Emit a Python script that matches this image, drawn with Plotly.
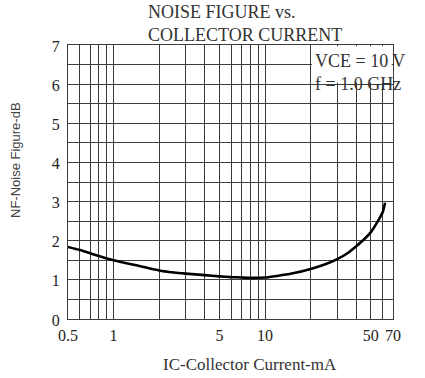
import math
import plotly.graph_objects as go

# ---- data ----
current_ma = [0.5, 0.6, 0.7, 0.8, 1, 1.5, 2, 2.5, 3, 4, 5, 6, 7, 8, 10, 12, 15, 20, 25, 30, 35, 40, 45, 50, 56, 60, 62]
noise_db = [1.84, 1.76, 1.68, 1.61, 1.50, 1.35, 1.24, 1.19, 1.16, 1.12, 1.09, 1.07, 1.06, 1.05, 1.06, 1.10, 1.16, 1.28, 1.40, 1.53, 1.68, 1.86, 2.03, 2.22, 2.52, 2.74, 2.97]

x_grid = [0.5, 0.6, 0.7, 0.8, 0.9, 1, 2, 3, 4, 5, 6, 7, 8, 9, 10, 20, 30, 40, 50, 60, 70]
x_labels = {0.5: "0.5", 1: "1", 5: "5", 10: "10", 50: "50", 70: "70"}
y_grid = [i * 0.5 for i in range(15)]
y_labels = {0: "0", 1: "1", 2: "2", 3: "3", 4: "4", 5: "5", 6: "6", 7: "7"}

title_text = "NOISE FIGURE vs.<br>COLLECTOR CURRENT"
cond_text = "VCE = 10 V<br>f = 1.0 GHz"
x_title = "IC-Collector Current-mA"
y_title = "NF-Noise Figure-dB"

serif = "Liberation Serif, Times New Roman, serif"
sans = "Liberation Sans, Arial, sans-serif"
grid_col = "#3c3c3c"

fig = go.Figure()
fig.add_trace(go.Scatter(
    x=current_ma, y=noise_db, mode="lines",
    line=dict(color="black", width=2.6, shape="spline", smoothing=0.6),
    showlegend=False, hoverinfo="skip",
))

fig.update_xaxes(
    type="log", range=[math.log10(0.5), math.log10(70)],
    tickmode="array", tickvals=x_grid,
    ticktext=[x_labels.get(v, "") for v in x_grid],
    showgrid=True, gridcolor=grid_col, gridwidth=1.3,
    showline=True, linecolor=grid_col, linewidth=1.3, mirror=True,
    ticks="", zeroline=False, ticklabelstandoff=2,
    tickfont=dict(family=serif, size=16, color="#222"),
)
fig.update_yaxes(
    range=[0, 7],
    tickmode="array", tickvals=y_grid,
    ticktext=[y_labels.get(v, "") for v in y_grid],
    showgrid=True, gridcolor=grid_col, gridwidth=1.3,
    showline=True, linecolor=grid_col, linewidth=1.3, mirror=True,
    ticks="", zeroline=False, ticklabelstandoff=4, ticklabelshift=1,
    tickfont=dict(family=serif, size=16, color="#222"),
)

# white box behind the test-condition text
x20 = (math.log10(20) - math.log10(0.5)) / (math.log10(70) - math.log10(0.5))
fig.add_shape(type="rect", xref="x domain", yref="y",
              x0=x20 + 0.004, x1=0.996, y0=6.04, y1=6.97,
              fillcolor="white", line=dict(width=0), layer="above")

annotations = [
    dict(text=title_text, xref="paper", yref="paper",
         x=(146 - 68) / 325, y=(319 - 24) / 274, xanchor="left", yanchor="middle",
         align="left", showarrow=False,
         font=dict(family=serif, size=18, color="#333")),
    dict(text=cond_text, xref="paper", yref="paper",
         x=(313 - 68) / 325, y=(319 - 72) / 274, xanchor="left", yanchor="middle",
         align="left", showarrow=False,
         font=dict(family=serif, size=18, color="#333")),
    dict(text=x_title, xref="paper", yref="paper",
         x=(250 - 68) / 325, y=(319 - 364) / 274, xanchor="center", yanchor="middle",
         showarrow=False, font=dict(family=serif, size=17, color="#333")),
    dict(text=y_title, xref="paper", yref="paper",
         x=(15 - 68) / 325, y=(319 - 160) / 274, xanchor="center", yanchor="middle",
         textangle=-90, showarrow=False,
         font=dict(family=sans, size=13, color="#444")),
]

fig.update_layout(
    width=425, height=378,
    margin=dict(l=68, r=32, t=45, b=59),
    paper_bgcolor="white", plot_bgcolor="white",
    annotations=annotations,
)

fig.write_html("out.html", config={"displayModeBar": False},
               post_script="document.body.style.margin='0px';")
